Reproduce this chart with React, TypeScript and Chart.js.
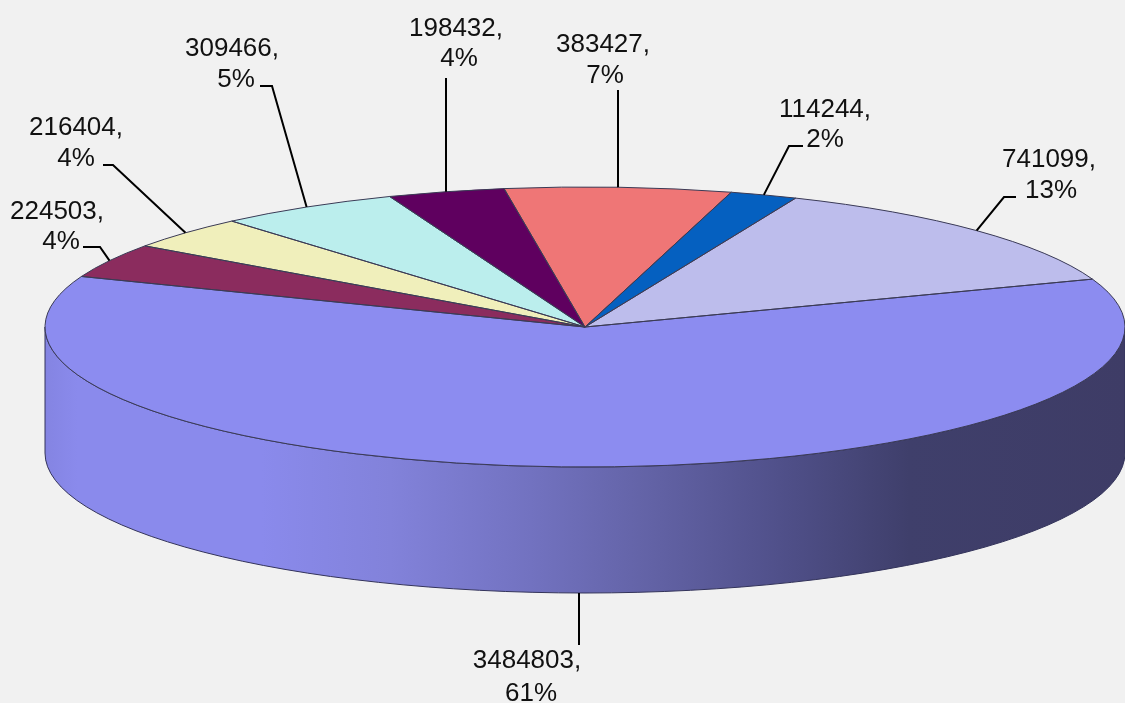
import React, { useEffect, useRef } from "react";
import { Chart, registerables } from "chart.js";

Chart.register(...registerables);

// Data, clockwise from the big slice
const categories = ["A", "B", "C", "D", "E", "F", "G", "H"];
const seriesValues = [3484803, 224503, 216404, 309466, 198432, 383427, 114244, 741099];
const percentLabels = ["61%", "4%", "4%", "5%", "4%", "7%", "2%", "13%"];
const sliceColors = ["#8c8cf0", "#8b2c5e", "#f0efbb", "#bbeeed", "#5f005f", "#ef7676", "#0560c0", "#bdbdec"];

// Presentation
const BG = "#f1f1f1";
const CX = 585;
const CY = 327;
const RX = 540;
const RY = 140;
const DEPTH = 126;
const ROTATION = 70;

// Leader elbows and label text placement, per slice
const labelLayout = [
  { path: [[579, 645]], line1: [527, 661], line2: [531, 694], drop: true },
  { path: [[100, 247], [83, 247]], line1: [57, 212], line2: [61, 242] },
  { path: [[113, 165], [103, 165]], line1: [76, 128], line2: [76, 159] },
  { path: [[272, 86], [260, 86]], line1: [232, 49], line2: [236, 80] },
  { path: [[446, 78]], line1: [456, 29], line2: [459, 59] },
  { path: [[618, 90]], line1: [603, 45], line2: [605, 76] },
  { path: [[789, 146], [803, 146]], line1: [825, 110], line2: [825, 140] },
  { path: [[1004, 197], [1016, 197]], line1: [1049, 160], line2: [1051, 191] },
];

const rimPlugin = {
  id: "pie3d",
  beforeDatasetsDraw(chart: any) {
    const ctx = chart.ctx as CanvasRenderingContext2D;
    const g = ctx.createLinearGradient(CX - RX, 0, CX + RX, 0);
    g.addColorStop(0, "#8484e2");
    g.addColorStop(0.03, "#8a8aec");
    g.addColorStop(0.2, "#8a8aec");
    g.addColorStop(0.32, "#8282da");
    g.addColorStop(0.45, "#7272c0");
    g.addColorStop(0.55, "#6464a8");
    g.addColorStop(0.68, "#50508a");
    g.addColorStop(0.8, "#3f3f6b");
    g.addColorStop(1, "#3e3c66");
    ctx.save();
    ctx.beginPath();
    ctx.ellipse(CX, CY, RX, RY, 0, Math.PI, 0, true);
    ctx.lineTo(CX + RX, CY + DEPTH);
    ctx.ellipse(CX, CY + DEPTH, RX, RY, 0, 0, Math.PI, false);
    ctx.closePath();
    ctx.fillStyle = g;
    ctx.fill();
    ctx.strokeStyle = "#33335a";
    ctx.lineWidth = 1;
    ctx.stroke();
    ctx.restore();

    // Squash the library's round pie into the tilted ellipse
    const arc = chart.getDatasetMeta(0).data[0];
    const r = arc.outerRadius;
    ctx.save();
    ctx.translate(CX, CY);
    ctx.scale(RX / r, RY / r);
    ctx.translate(-arc.x, -arc.y);
  },
  afterDatasetsDraw(chart: any) {
    const ctx = chart.ctx as CanvasRenderingContext2D;
    ctx.restore();
    const arcs = chart.getDatasetMeta(0).data;

    ctx.save();
    ctx.strokeStyle = "#3a3a55";
    ctx.lineWidth = 1;
    ctx.lineJoin = "round";
    arcs.forEach((a: any) => {
      ctx.beginPath();
      ctx.moveTo(CX, CY);
      ctx.ellipse(CX, CY, RX, RY, 0, a.startAngle, a.endAngle, false);
      ctx.closePath();
      ctx.stroke();
    });
    ctx.restore();

    ctx.save();
    ctx.font = '26px "Liberation Sans", Arial, sans-serif';
    ctx.textAlign = "center";
    ctx.textBaseline = "middle";
    ctx.fillStyle = "#111";
    ctx.strokeStyle = "#000";
    ctx.lineWidth = 2;
    arcs.forEach((a: any, i: number) => {
      const layout = labelLayout[i];
      const mid = (a.startAngle + a.endAngle) / 2;
      const ax = CX + RX * Math.cos(mid);
      const ay = CY + RY * Math.sin(mid) + (layout.drop ? DEPTH : 0);
      ctx.beginPath();
      ctx.moveTo(layout.drop || layout.path.length === 1 ? layout.path[0][0] : ax, ay);
      layout.path.forEach(([x, y]) => ctx.lineTo(x, y));
      ctx.stroke();
      ctx.fillText(seriesValues[i] + ",", layout.line1[0], layout.line1[1]);
      ctx.fillText(percentLabels[i], layout.line2[0], layout.line2[1]);
    });
    ctx.restore();
  },
};

export default function App() {
  const ref = useRef<HTMLCanvasElement>(null);
  useEffect(() => {
    document.body.style.margin = "0";
    document.body.style.background = BG;
    const chart = new Chart(ref.current!, {
      type: "pie",
      data: {
        labels: categories,
        datasets: [{ data: seriesValues, backgroundColor: sliceColors, borderWidth: 0 }],
      },
      options: {
        responsive: false,
        animation: false,
        rotation: ROTATION,
        layout: { padding: 0 },
        plugins: { legend: { display: false }, tooltip: { enabled: false } },
      },
      plugins: [rimPlugin],
    } as any);
    return () => chart.destroy();
  }, []);
  return <canvas ref={ref} width={1125} height={703} style={{ display: "block", background: BG }} />;
}
